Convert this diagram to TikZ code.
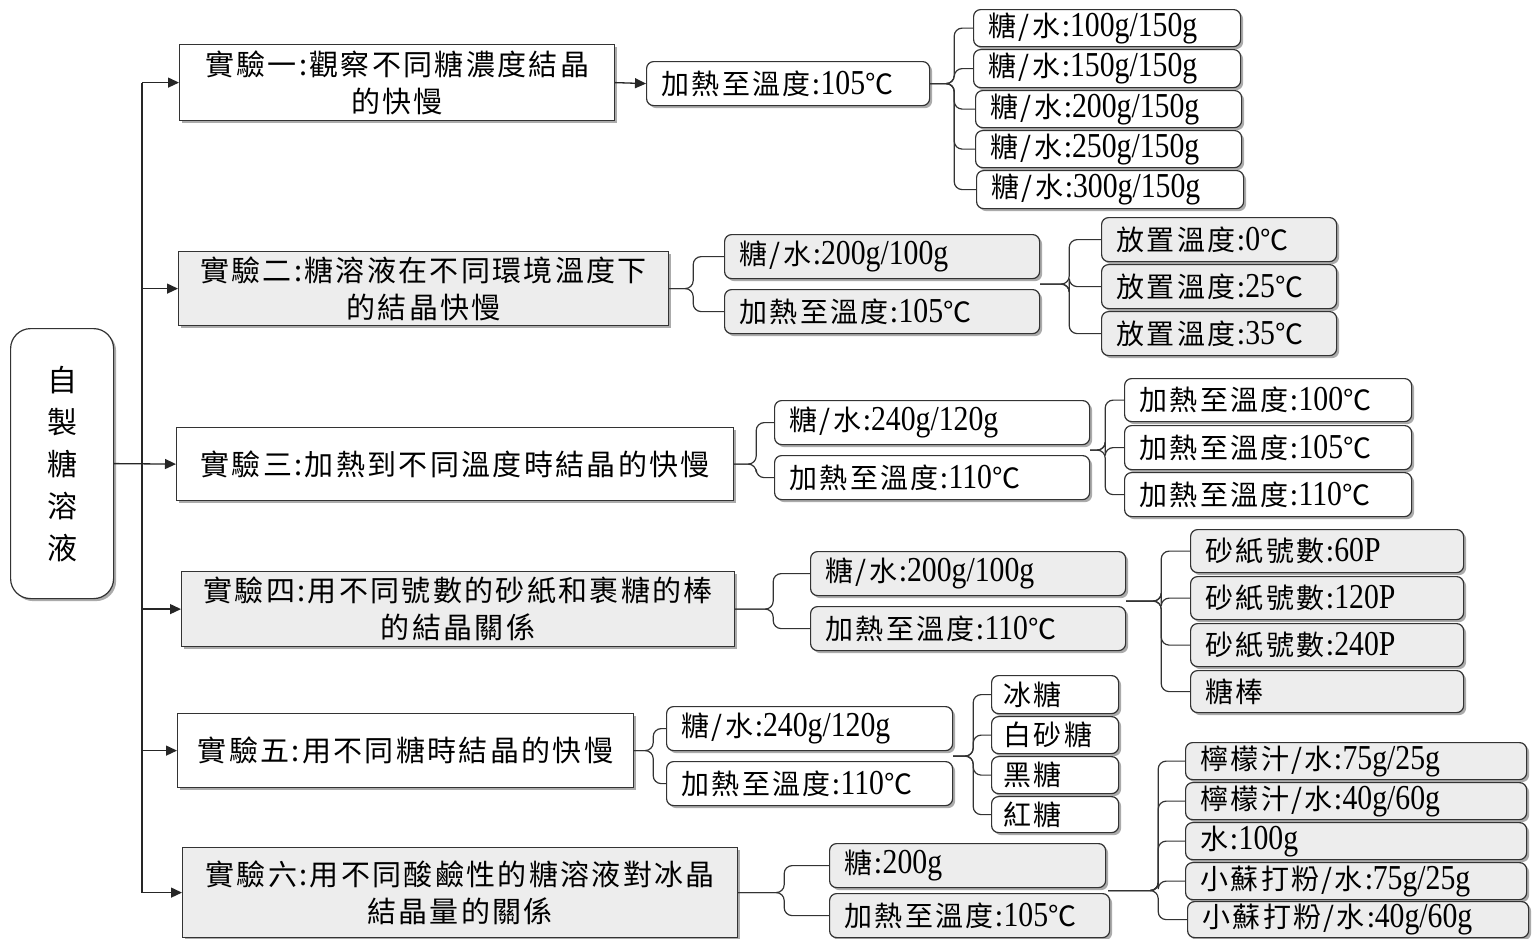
\documentclass[tikz,border=0pt]{standalone}
\usepackage{fontspec}
\setmainfont{Noto Sans CJK TC}[LetterSpace=8]
\newfontfamily\nmfont{Liberation Serif}[Scale=1.25,FakeStretch=0.85]
\newcommand\nm[1]{{\nmfont #1}}
\usetikzlibrary{shadows,arrows.meta,calc}
\tikzset{
  base/.style={draw=black!80, line width=1.2pt, inner ysep=0pt,
    drop shadow={shadow xshift=2.5pt, shadow yshift=-2.5pt, fill=black!55, opacity=0.6}},
  expbox/.style={base, align=center, font=\fontsize{29}{37}\selectfont},
  leaf/.style={base, rounded corners=7pt, align=left, font=\fontsize{28}{32}\selectfont},
  rootbox/.style={base, rounded corners=20pt, align=center, font=\fontsize{30}{42}\selectfont},
  gfill/.style={fill=black!7},
  wfill/.style={fill=white},
  conn/.style={draw=black!80, line width=1.2pt, rounded corners=8pt},
  trunk/.style={draw=black!85, line width=1.3pt},
  arr/.style={draw=black!85, line width=1.3pt, -{Triangle[length=11pt,width=10pt]}}
}
% \bx[xsep]{style}{name}{x1}{y1}{x2}{y2}{text}
\newcommand\bx[8][15]{%
  \pgfmathsetlengthmacro\bw{(#6-#4)*1pt-2*#1*1pt}%
  \pgfmathsetlengthmacro\bh{(#7-#5)*1pt}%
  \node[#2, inner xsep=#1pt, text width=\bw, minimum height=\bh, anchor=north west] (#3) at (#4,#5) {#8};}
\begin{document}
\begin{tikzpicture}[x=1pt,y=-1pt]
\fill[white] (0,0) rectangle (1532,938);
\useasboundingbox (0,0) rectangle (1532,938);

% root
\bx[4]{rootbox,wfill}{root}{10}{328}{113}{598}{自\\製\\糖\\溶\\液}

% experiments
\bx[4]{expbox,wfill}{e1}{179}{44}{614}{120}{實驗一:觀察不同糖濃度結晶\\的快慢}
\bx[4]{expbox,gfill}{e2}{178}{251}{668}{325}{實驗二:糖溶液在不同環境溫度下\\的結晶快慢}
\bx[4]{expbox,wfill}{e3}{176}{427}{733}{500}{實驗三:加熱到不同溫度時結晶的快慢}
\bx[4]{expbox,gfill}{e4}{181}{571}{734}{646}{實驗四:用不同號數的砂紙和裹糖的棒\\的結晶關係}
\bx[4]{expbox,wfill}{e5}{177}{713}{633}{787}{實驗五:用不同糖時結晶的快慢}
\bx[4]{expbox,gfill}{e6}{182}{847}{737}{937}{實驗六:用不同酸鹼性的糖溶液對冰晶\\結晶量的關係}

% trunk
\coordinate (tk) at (142,463);
\draw[trunk] (tk |- e1.west) -- (tk |- e6.west);
\foreach \e in {e1,e2,e4,e5,e6} \draw[arr] (tk |- \e.west) -- (\e.west);
\draw[arr] (root.east) -- (e3.west);

% experiment 1
\bx{leaf,wfill}{c1}{646}{61}{929}{105}{加熱至溫度:\nm{105}℃}
\bx{leaf,wfill}{l11}{973}{9}{1240}{46}{糖/水:\nm{100g/150g}}
\bx{leaf,wfill}{l12}{973}{49}{1240}{87}{糖/水:\nm{150g/150g}}
\bx{leaf,wfill}{l13}{975}{90}{1241}{127}{糖/水:\nm{200g/150g}}
\bx{leaf,wfill}{l14}{975}{130}{1241}{167}{糖/水:\nm{250g/150g}}
\bx{leaf,wfill}{l15}{976}{170}{1243}{208}{糖/水:\nm{300g/150g}}
\draw[arr] (e1.east) -- (c1.west);
\foreach \l in {l11,l12,l13,l14,l15} \draw[conn] (c1.east) -- ++(24,0) |- (\l.west);

% experiment 2
\bx{leaf,gfill}{c21}{724}{234}{1039}{278}{糖/水:\nm{200g/100g}}
\bx{leaf,gfill}{c22}{724}{289}{1039}{333}{加熱至溫度:\nm{105}℃}
\bx{leaf,gfill}{l21}{1101}{217}{1336}{261}{放置溫度:\nm{0}℃}
\bx{leaf,gfill}{l22}{1101}{264}{1336}{308}{放置溫度:\nm{25}℃}
\bx{leaf,gfill}{l23}{1101}{311}{1336}{355}{放置溫度:\nm{35}℃}
\foreach \c in {c21,c22} \draw[conn] (e2.east) -- ++(24,0) |- (\c.west);
\coordinate (s2) at ($(c21.south east)!0.5!(c22.north east)$);
\foreach \l in {l21,l22,l23} \draw[conn] (s2) -- ++(29,0) |- (\l.west);

% experiment 3
\bx{leaf,wfill}{c31}{774}{400}{1089}{444}{糖/水:\nm{240g/120g}}
\bx{leaf,wfill}{c32}{774}{455}{1089}{499}{加熱至溫度:\nm{110}℃}
\bx{leaf,wfill}{l31}{1124}{378}{1411}{421}{加熱至溫度:\nm{100}℃}
\bx{leaf,wfill}{l32}{1124}{425}{1411}{469}{加熱至溫度:\nm{105}℃}
\bx{leaf,wfill}{l33}{1124}{472}{1411}{516}{加熱至溫度:\nm{110}℃}
\foreach \c in {c31,c32} \draw[conn] (e3.east) -- ++(22,0) |- (\c.west);
\coordinate (s3) at ($(c31.south east)!0.5!(c32.north east)$);
\foreach \l in {l31,l32,l33} \draw[conn] (s3) -- ++(15,0) |- (\l.west);

% experiment 4
\bx{leaf,gfill}{c41}{810}{551}{1125}{595}{糖/水:\nm{200g/100g}}
\bx{leaf,gfill}{c42}{810}{606}{1125}{650}{加熱至溫度:\nm{110}℃}
\bx{leaf,gfill}{l41}{1190}{529}{1463}{572}{砂紙號數:\nm{60P}}
\bx{leaf,gfill}{l42}{1190}{576}{1463}{619}{砂紙號數:\nm{120P}}
\bx{leaf,gfill}{l43}{1190}{623}{1463}{666}{砂紙號數:\nm{240P}}
\bx{leaf,gfill}{l44}{1190}{670}{1463}{712}{糖棒}
\foreach \c in {c41,c42} \draw[conn] (e4.east) -- ++(38,0) |- (\c.west);
\coordinate (s4) at ($(c41.south east)!0.5!(c42.north east)$);
\foreach \l in {l41,l42,l43,l44} \draw[conn] (s4) -- ++(35,0) |- (\l.west);

% experiment 5
\bx{leaf,wfill}{c51}{666}{706}{952}{750}{糖/水:\nm{240g/120g}}
\bx{leaf,wfill}{c52}{666}{761}{952}{805}{加熱至溫度:\nm{110}℃}
\bx[12]{leaf,wfill}{l51}{991}{675}{1118}{713}{冰糖}
\bx[12]{leaf,wfill}{l52}{991}{716}{1118}{753}{白砂糖}
\bx[12]{leaf,wfill}{l53}{991}{756}{1118}{793}{黑糖}
\bx[12]{leaf,wfill}{l54}{991}{796}{1118}{832}{紅糖}
\foreach \c in {c51,c52} \draw[conn] (e5.east) -- ++(19,0) |- (\c.west);
\coordinate (s5) at ($(c51.south east)!0.5!(c52.north east)$);
\foreach \l in {l51,l52,l53,l54} \draw[conn] (s5) -- ++(20,0) |- (\l.west);

% experiment 6
\bx{leaf,gfill}{c61}{829}{843}{1105}{887}{糖:\nm{200g}}
\bx{leaf,gfill}{c62}{829}{893}{1109}{937}{加熱至溫度:\nm{105}℃}
\bx{leaf,gfill}{l61}{1185}{742}{1526}{779}{檸檬汁/水:\nm{75g/25g}}
\bx{leaf,gfill}{l62}{1185}{782}{1526}{819}{檸檬汁/水:\nm{40g/60g}}
\bx{leaf,gfill}{l63}{1185}{822}{1526}{859}{水:\nm{100g}}
\bx{leaf,gfill}{l64}{1185}{862}{1526}{899}{小蘇打粉/水:\nm{75g/25g}}
\bx{leaf,gfill}{l65}{1187}{901}{1528}{937}{小蘇打粉/水:\nm{40g/60g}}
\foreach \c in {c61,c62} \draw[conn] (e6.east) -- ++(46,0) |- (\c.west);
\coordinate (s6) at ($(c61.south east)!0.5!(c62.north east)$);
\foreach \l in {l61,l62,l63,l64,l65} \draw[conn] (s6) -- ++(50,0) |- (\l.west);
\end{tikzpicture}
\end{document}
